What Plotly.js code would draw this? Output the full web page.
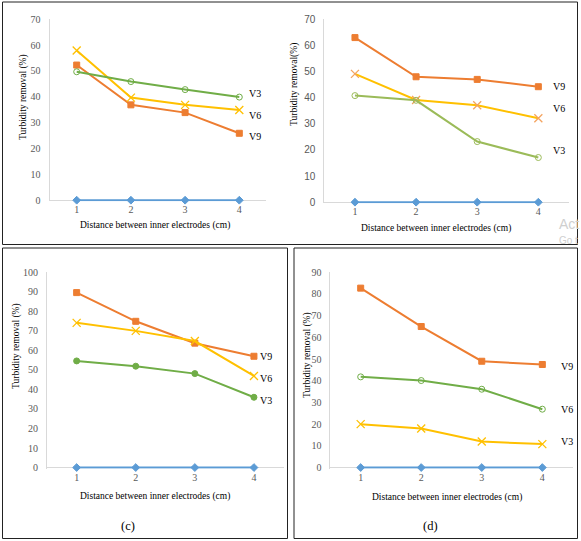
<!DOCTYPE html>
<html>
<head>
<meta charset="utf-8">
<script src="https://cdn.plot.ly/plotly-3.0.1.min.js"></script>
<style>
  html, body { margin: 0; padding: 0; background: #fff; }
  #chart { width: 581px; height: 541px; }
</style>
</head>
<body>
<div id="chart"></div>
<script>
// Distance between inner electrodes (cm)
const distances = [1, 2, 3, 4];

// Panel (a)
const aV3 = [49.7, 45.9, 42.8, 39.9];
const aV6 = [57.9, 39.7, 36.9, 34.9];
const aV9 = [52.3, 36.9, 33.9, 25.9];
const aBase = [0, 0, 0, 0];

// Panel (b)
const bV9 = [63.0, 48.0, 47.0, 44.2];
const bV6 = [49.1, 39.1, 37.1, 32.1];
const bV3 = [40.8, 39.0, 23.2, 17.1];
const bBase = [0, 0, 0, 0];

// Panel (c)
const cV9 = [89.6, 74.9, 63.7, 57.0];
const cV6 = [74.1, 70.0, 64.8, 46.9];
const cV3 = [54.6, 51.9, 48.1, 36.0];
const cBase = [0, 0, 0, 0];

// Panel (d)
const dV9 = [82.7, 65.0, 49.0, 47.5];
const dV6 = [41.8, 40.1, 36.1, 26.9];
const dV3 = [20.0, 18.0, 12.0, 10.8];
const dBase = [0, 0, 0, 0];

const yTitles = ['Turbidity removal (%)', 'Turbidity removal(%)', 'Turbidity removal (%)', 'Turbidity removal (%)'];
const xTitle = 'Distance between inner electrodes (cm)';

const ORANGE = '#ED7D31', YELLOW = '#FFC000', GREEN = '#70AD47', OLIVE = '#9BBB59', BLUE = '#5B9BD5';
const SERIF = 'Liberation Serif, Times New Roman, serif';
const SANS = 'Liberation Sans, Arial, sans-serif';
const W = 581, H = 541;

function line(y, ax, color, symbol, markerColor) {
    const isX = symbol === 'x-thin-open';
    return {
        x: distances, y: y,
        xaxis: 'x' + ax, yaxis: 'y' + ax,
        type: 'scatter', mode: 'lines+markers', cliponaxis: false,
        line: { color: color, width: 2 },
        marker: {
            color: markerColor || color, size: isX ? 8 : 6, symbol: symbol,
            line: { color: markerColor || color, width: isX ? 1.3 : 1 }
        },
        hoverinfo: 'x+y', showlegend: false
    };
}

const traces = [
    line(aBase, '', BLUE, 'diamond'),
    line(aV9, '', ORANGE, 'square'),
    line(aV6, '', YELLOW, 'x-thin-open'),
    line(aV3, '', GREEN, 'circle-open'),

    line(bBase, '2', BLUE, 'diamond'),
    line(bV9, '2', ORANGE, 'square'),
    line(bV6, '2', YELLOW, 'x-thin-open', '#F4A460'),
    line(bV3, '2', OLIVE, 'circle-open'),

    line(cBase, '3', BLUE, 'diamond'),
    line(cV9, '3', ORANGE, 'square'),
    line(cV6, '3', YELLOW, 'x-thin-open'),
    line(cV3, '3', GREEN, 'circle'),

    line(dBase, '4', BLUE, 'diamond'),
    line(dV9, '4', ORANGE, 'square'),
    line(dV6, '4', GREEN, 'circle-open'),
    line(dV3, '4', YELLOW, 'x-thin-open')
];

// pixel boxes -> paper domains
const px = (a, b) => [a / W, b / W];
const py = (top, bottom) => [1 - bottom / H, 1 - top / H];

function xAxis(dom, anchor) {
    return {
        domain: dom, anchor: anchor, range: [0.5, 4.5],
        tickvals: distances, ticks: '', showgrid: false, zeroline: false,
        showline: false,
        tickfont: { family: SERIF, size: 10, color: '#595959' },
        ticklabelstandoff: 1, fixedrange: true
    };
}
// range starts a hair below zero so the 0-series line is not clipped;
// the zero line stands in for the category axis line
function yAxis(dom, anchor, max, fontFamily) {
    return {
        domain: dom, anchor: anchor, range: [-max * 0.006, max],
        tickvals: Array.from({ length: max / 10 + 1 }, (_, i) => i * 10),
        ticks: '', showgrid: false,
        zeroline: true, zerolinecolor: '#D9D9D9', zerolinewidth: 1,
        showline: true, linecolor: '#D9D9D9', linewidth: 1,
        tickfont: { family: fontFamily, size: 10, color: '#595959' },
        ticklabelstandoff: 6, fixedrange: true
    };
}

function seriesLabel(text, ax, y, shift) {
    return {
        text: text, x: 4, y: y, xref: 'x' + ax, yref: 'y' + ax,
        xanchor: 'left', yanchor: 'middle', xshift: shift, showarrow: false,
        font: { family: SERIF, size: 10, color: '#000' }
    };
}
function paperText(text, x, y, size, angle, color, family, anchor) {
    return {
        text: text, x: x / W, y: 1 - y / H, xref: 'paper', yref: 'paper',
        xanchor: anchor || 'center', yanchor: 'middle', showarrow: false, textangle: angle || 0,
        font: { family: family || SERIF, size: size, color: color || '#000' }
    };
}
function box(x0, y0, x1, y1) {
    return {
        type: 'rect', xref: 'paper', yref: 'paper',
        x0: x0 / W, x1: x1 / W, y0: 1 - y1 / H, y1: 1 - y0 / H,
        line: { color: '#222', width: 1 }, fillcolor: 'rgba(0,0,0,0)'
    };
}

const annotations = [
    seriesLabel('V3', '', 41.1, 8),
    seriesLabel('V6', '', 32.7, 8),
    seriesLabel('V9', '', 24.6, 8),
    seriesLabel('V9', '2', 44.1, 13),
    seriesLabel('V6', '2', 35.7, 13),
    seriesLabel('V3', '2', 19.6, 13),
    seriesLabel('V9', '3', 56.8, 4),
    seriesLabel('V6', '3', 45.8, 4),
    seriesLabel('V3', '3', 34.5, 4),
    seriesLabel('V9', '4', 46.5, 17),
    seriesLabel('V6', '4', 26.6, 17),
    seriesLabel('V3', '4', 12.0, 17),

    paperText(yTitles[0], 23, 97, 9.5, -90),
    paperText(yTitles[1], 294, 85, 9.5, -90),
    paperText(yTitles[2], 16, 346, 9.5, -90),
    paperText(yTitles[3], 307, 355, 9.5, -90),

    paperText(xTitle, 155, 225.7, 9.5),
    paperText(xTitle, 435.5, 228, 9.5),
    paperText(xTitle, 155, 496.7, 9.5),
    paperText(xTitle, 447.3, 497.3, 9.5),

    paperText('(c)', 128, 526, 12.5),
    paperText('(d)', 430.7, 526, 12.5),

    // screen-capture watermark, cut off at the right edge in the source
    paperText('Act', 557, 224, 14, 0, '#CFCFCF', SANS, 'left'),
    paperText('Go t', 557, 240, 10, 0, '#CFCFCF', SANS, 'left')
];

const layout = {
    width: W, height: H,
    margin: { l: 0, r: 0, t: 0, b: 0 },
    paper_bgcolor: '#fff', plot_bgcolor: 'rgba(0,0,0,0)',
    showlegend: false,
    xaxis: xAxis(px(49.6, 266.4), 'y'),
    yaxis: yAxis(py(19.3, 201.3), 'x', 70, SERIF),
    xaxis2: xAxis(px(324.4, 568.9), 'y2'),
    yaxis2: yAxis(py(19.3, 203.3), 'x2', 70, SANS),
    xaxis3: xAxis(px(47.1, 283.5), 'y3'),
    yaxis3: yAxis(py(272.3, 468.7), 'x3', 100, SERIF),
    xaxis4: xAxis(px(330.4, 572.6), 'y4'),
    yaxis4: yAxis(py(272.3, 468.7), 'x4', 90, SERIF),
    annotations: annotations,
    shapes: [
        box(2.5, 2, 577.5, 244.5),
        box(2.5, 248, 287.5, 538.5),
        box(294, 248, 577.5, 538.5)
    ]
};

Plotly.newPlot('chart', traces, layout, { displayModeBar: false, staticPlot: true });
</script>
</body>
</html>
